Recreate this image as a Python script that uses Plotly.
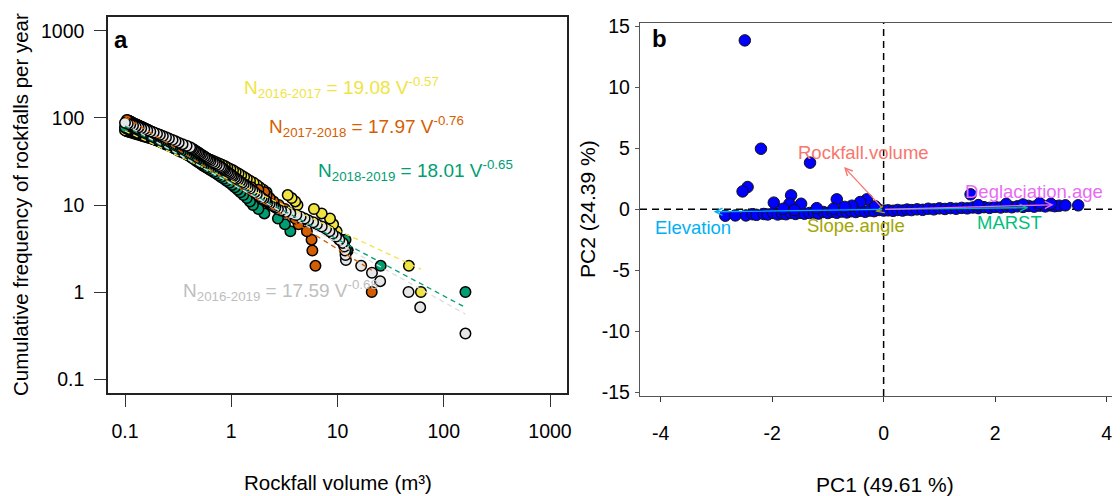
import plotly.graph_objects as go

# ---------------- Panel a data (cumulative frequency vs rockfall volume) ----------------
v_2016_2017 = [61, 47, 12.5, 11.0, 9.8, 9.1, 8.5, 7.1, 6.0, 4.2, 4.0, 3.7, 3.4, 2.15, 2.0, 1.85, 1.74, 1.62, 1.5, 1.4,
               1.32, 1.24, 1.17, 1.1, 1.04, 0.98, 0.92, 0.87, 0.82, 0.77, 0.72, 0.68, 0.64, 0.6, 0.57, 0.54, 0.51, 0.48, 0.455, 0.43,
               0.41, 0.39, 0.37, 0.35, 0.335, 0.32, 0.305, 0.29, 0.275, 0.262, 0.25, 0.238, 0.226, 0.215, 0.205, 0.195, 0.186, 0.177, 0.169, 0.161,
               0.154, 0.147, 0.141, 0.135, 0.129, 0.124, 0.119, 0.114, 0.11, 0.106, 0.103, 0.1]
n_2016_2017 = [1, 2, 3, 4, 5, 6, 7, 8, 9, 10, 11, 12, 13, 14, 15, 16, 17, 18, 19, 20,
               21, 22, 23, 24, 25, 26, 27, 28, 29, 30, 31, 32, 33, 34, 35, 36, 37, 38, 39, 40,
               41, 42, 43, 44, 45, 46, 47, 48, 49, 50, 51, 52, 53, 54, 55, 56, 57, 58, 59, 60,
               61, 62, 63, 64, 65, 66, 67, 68, 69, 70, 71, 72]

v_2017_2018 = [21, 6.2, 5.8, 5.7, 5.15, 4.3, 4.0, 3.6, 3.2, 2.8, 2.5, 2.3, 2.15, 2.05, 1.8, 1.55, 1.37, 1.25, 1.15, 1.05,
               0.98, 0.91, 0.85, 0.8, 0.76, 0.72, 0.69, 0.66, 0.63, 0.6, 0.57, 0.55, 0.535, 0.52, 0.5, 0.48, 0.46, 0.44, 0.43, 0.42,
               0.405, 0.39, 0.375, 0.36, 0.35, 0.34, 0.33, 0.32, 0.31, 0.3, 0.295, 0.285, 0.275, 0.268, 0.26, 0.253, 0.246, 0.24, 0.234, 0.228,
               0.222, 0.216, 0.21, 0.205, 0.2, 0.195, 0.19, 0.185, 0.18, 0.176, 0.172, 0.168, 0.164, 0.16, 0.156, 0.152, 0.149, 0.146, 0.143, 0.14,
               0.137, 0.134, 0.131, 0.128, 0.125, 0.122, 0.12, 0.118, 0.116, 0.114, 0.112, 0.11, 0.108, 0.106, 0.104]
n_2017_2018 = [1, 2, 3, 4, 5, 6, 7, 8, 9, 10, 11, 12, 13, 14, 15, 16, 17, 18, 19, 20,
               21, 22, 23, 24, 25, 26, 27, 28, 29, 30, 31, 32, 33, 34, 35, 36, 37, 38, 39, 40,
               41, 42, 43, 44, 45, 46, 47, 48, 49, 50, 51, 52, 53, 54, 55, 56, 57, 58, 59, 60,
               61, 62, 63, 64, 65, 66, 67, 68, 69, 70, 71, 72, 73, 74, 75, 76, 77, 78, 79, 80,
               81, 82, 83, 84, 85, 86, 87, 88, 89, 90, 91, 92, 93, 94, 95]

v_2018_2019 = [160, 25.5, 12.3, 11.9, 3.6, 3.2, 2.75, 2.05, 1.8, 1.6, 1.5, 1.4, 1.3, 1.22, 1.15, 1.08, 1.02, 0.96, 0.9, 0.85,
               0.8, 0.76, 0.72, 0.68, 0.64, 0.61, 0.58, 0.55, 0.53, 0.51, 0.49, 0.47, 0.455, 0.44, 0.425, 0.41, 0.395, 0.38, 0.365, 0.35,
               0.335, 0.32, 0.31, 0.3, 0.29, 0.28, 0.27, 0.26, 0.25, 0.24, 0.232, 0.224, 0.216, 0.208, 0.2, 0.193, 0.186, 0.18, 0.174, 0.168,
               0.162, 0.156, 0.151, 0.146, 0.141, 0.136, 0.132, 0.128, 0.124, 0.12, 0.117, 0.114, 0.111, 0.108, 0.105, 0.103, 0.101, 0.1]
n_2018_2019 = [1, 2, 3, 4, 5, 6, 7, 8, 9, 10, 11, 12, 13, 14, 15, 16, 17, 18, 19, 20,
               21, 22, 23, 24, 25, 26, 27, 28, 29, 30, 31, 32, 33, 34, 35, 36, 37, 38, 39, 40,
               41, 42, 43, 44, 45, 46, 47, 48, 49, 50, 51, 52, 53, 54, 55, 56, 57, 58, 59, 60,
               61, 62, 63, 64, 65, 66, 67, 68, 69, 70, 71, 72, 73, 74, 75, 76, 77, 78]

v_2016_2019 = [160, 60, 46.6, 25.2, 21.1, 16.7, 12.0, 11.9, 11.8, 11.6, 11.2, 10.4, 9.7, 9.0, 8.4, 7.8, 7.1, 6.4, 5.9, 5.3,
               4.9, 4.5, 4.1, 3.6, 3.25, 2.95, 2.75, 2.6, 2.5, 2.4, 2.3, 2.2, 2.14, 2.09, 2.0, 1.93, 1.85, 1.74, 1.66, 1.58,
               1.5, 1.43, 1.37, 1.31, 1.26, 1.21, 1.16, 1.12, 1.08, 1.04, 1.01, 0.98, 0.95, 0.92, 0.89, 0.86, 0.84, 0.82, 0.8, 0.77,
               0.73, 0.7, 0.67, 0.64, 0.62, 0.6, 0.58, 0.56, 0.54, 0.52, 0.505, 0.49, 0.475, 0.46, 0.446, 0.435, 0.42, 0.41, 0.38, 0.348,
               0.32, 0.299, 0.28, 0.259, 0.243, 0.227, 0.213, 0.2, 0.186, 0.173, 0.162, 0.152, 0.142, 0.134, 0.126, 0.119, 0.112, 0.106, 0.1]
n_2016_2019 = [0.333, 0.667, 1.0, 1.333, 1.667, 2.0, 2.333, 2.667, 3.0, 3.333, 3.667, 4.0, 4.333, 4.667, 5.0, 5.333, 5.667, 6.0, 6.333, 6.667,
               7.0, 7.333, 7.667, 8.0, 8.333, 8.667, 9.0, 9.333, 9.667, 10.0, 10.333, 10.667, 11.0, 11.333, 11.667, 12.0, 12.667, 13.333, 14.0, 14.667,
               15.333, 16.0, 16.667, 17.333, 18.0, 18.667, 19.333, 20.0, 20.667, 21.333, 22.0, 22.667, 23.333, 24.0, 24.667, 25.333, 26.0, 26.667, 27.333, 28.0,
               29.0, 30.0, 31.0, 32.0, 33.0, 34.0, 35.0, 36.0, 37.0, 38.0, 39.0, 40.0, 41.0, 42.0, 43.0, 44.0, 45.0, 46.0, 48.0, 50.0,
               52.0, 54.0, 56.0, 58.0, 60.0, 62.0, 64.0, 66.0, 68.0, 70.0, 72.0, 74.0, 76.0, 78.0, 80.0, 82.0, 84.0, 86.0, 88.0]

# power-law fits N = a * V^b
fit_periods = ["2016-2017", "2017-2018", "2018-2019", "2016-2019"]
fit_a = [19.08, 17.97, 18.01, 17.59]
fit_b = [-0.57, -0.76, -0.65, -0.68]
fit_vmin = [0.1, 0.1, 0.1, 0.1]
fit_vmax = [61, 21, 160, 160]

# ---------------- Panel b data (PCA) ----------------
pc1 = [-2.84, -2.66, -2.47, -2.35, -2.28, -2.15, -2.08, -1.98, -1.9, -1.82, -1.75, -1.66, -1.58, -1.5, -1.42, -1.33, -1.25, -1.17,
       -1.08, -1.0, -0.92, -0.84, -0.75, -0.66, -0.58, -0.5, -0.42, -0.33, -0.25, -0.17, -0.08, 0.0, 0.08, 0.17, 0.25, 0.34,
       0.42, 0.5, 0.6, 0.7, 0.8, 0.9, 1.0, 1.1, 1.2, 1.3, 1.4, 1.5, 1.6, 1.7, 1.8, 1.9, 2.0, 2.1, 2.2, 2.3, 2.4, 2.5, 2.6,
       2.7, 2.8, 2.9, 3.0, 3.07, 3.15, 3.26, 3.49,
       -2.49, -2.2, -1.32, -2.44, -2.53, -1.66, -1.97, -1.69, -1.48, -0.84, -0.30, -0.42, -0.57, 1.56,
       -1.2, -0.9, -0.7, -0.15, -1.8, -1.6, 2.2, 2.5, 2.8, 1.7, 3.0]
pc2 = [-0.52, -0.5, -0.5, -0.4, -0.45, -0.38, -0.42, -0.3, -0.42, -0.35, -0.4, -0.3, -0.38, -0.28, -0.36, -0.3, -0.25, -0.35,
       -0.22, -0.3, -0.2, -0.28, -0.18, -0.25, -0.15, -0.22, -0.12, -0.2, -0.1, -0.15, -0.05, -0.1, -0.08, -0.12, -0.05, -0.1,
       -0.02, -0.06, 0.0, -0.04, 0.05, 0.0, 0.08, 0.03, 0.1, 0.05, 0.12, 0.08, 0.15, 0.1, 0.18, 0.12, 0.2, 0.15, 0.22, 0.17, 0.25, 0.2, 0.28,
       0.22, 0.3, 0.24, 0.32, 0.26, 0.3, 0.33, 0.33,
       13.85, 4.97, 3.83, 1.83, 1.47, 1.15, 0.55, 0.46, 0.46, 0.82, 0.82, 0.6, 0.3, 1.23,
       0.1, 0.05, 0.2, 0.25, 0.05, -0.05, 0.45, 0.4, 0.5, 0.35, 0.45]

var_names = ["Rockfall.volume", "Slope.angle", "MARST", "Elevation", "Deglaciation.age"]
var_pc1 = [-0.71, -0.15, 2.6, -3.05, 3.05]
var_pc2 = [3.47, -0.18, 0.14, -0.2, 0.38]
var_colors = ["#F8766D", "#A3A500", "#00BF7D", "#00B0F6", "#E76BF3"]
lab_pc1 = [-0.37, -0.49, 2.26, -3.42, 2.7]
lab_pc2 = [4.65, -1.35, -1.04, -1.5, 1.5]

FONT = "Liberation Sans, Arial, sans-serif"

# The page body has an 8 px margin, so the figure is drawn 8 px smaller and
# every paper position below is given in window pixels minus that offset.
OFF = 8
W, H = 1120 - OFF, 496 - OFF


def px(x):
    return (x - OFF) / W


def py(y):
    return (496 - y) / H


fig = go.Figure()

series = [
    (v_2016_2017, n_2016_2017, "#F0E442"),
    (v_2017_2018, n_2017_2018, "#D55E00"),
    (v_2018_2019, n_2018_2019, "#009E73"),
    (v_2016_2019, n_2016_2019, "#E6E6E6"),
]
for v, n, c in series:
    fig.add_trace(go.Scatter(x=v, y=n, mode="markers", xaxis="x", yaxis="y",
                             marker=dict(size=10.5, color=c, line=dict(color="#000", width=1.5)),
                             hoverinfo="skip"))

line_colors = ["#F0E442", "#D55E00", "#009E73", "#DDDDDD"]
for a, b, v0, v1, lc in zip(fit_a, fit_b, fit_vmin, fit_vmax, line_colors):
    fig.add_trace(go.Scatter(x=[v0, v1], y=[a * v0 ** b, a * v1 ** b], mode="lines", xaxis="x", yaxis="y",
                             line=dict(color=lc, width=1.3, dash="5px,4px"), hoverinfo="skip"))

fig.add_trace(go.Scatter(x=pc1, y=pc2, mode="markers", xaxis="x2", yaxis="y2",
                         marker=dict(size=11.5, color="#0000FF", line=dict(color="#111", width=1)),
                         hoverinfo="skip"))

# equations
eq_colors = ["#F0E442", "#D55E00", "#009E73", "#BEBEBE"]
eq_x = [0.10, 0.335, 0.795, -0.47]
eq_y = [2.345, 1.899, 1.401, 0.014]
annotations = []
for p, a, b, c, ex, ey in zip(fit_periods, fit_a, fit_b, eq_colors, eq_x, eq_y):
    annotations.append(dict(xref="x", yref="y", x=ex, y=ey, xanchor="left", yanchor="middle", showarrow=False,
                            text=f"N<sub>{p}</sub> = {a:.2f} V<sup>{b:.2f}</sup>",
                            font=dict(size=19, color=c, family=FONT)))

# PCA arrows & labels
for nm, x1, y1, c, lx, ly in zip(var_names, var_pc1, var_pc2, var_colors, lab_pc1, lab_pc2):
    annotations.append(dict(xref="x2", yref="y2", axref="x2", ayref="y2", x=x1, y=y1, ax=0, ay=0,
                            text="", showarrow=True, arrowhead=5, arrowsize=1.1, arrowwidth=1.3,
                            arrowcolor=c, standoff=0, startstandoff=0))
    annotations.append(dict(xref="x2", yref="y2", x=lx, y=ly, text=nm, showarrow=False,
                            xanchor="center", yanchor="middle", font=dict(size=18.5, color=c, family=FONT)))

# panel letters
annotations.append(dict(xref="paper", yref="paper", x=px(112), y=py(40), text="<b>a</b>",
                        showarrow=False, xanchor="left", yanchor="middle", font=dict(size=24, color="#000", family=FONT)))
annotations.append(dict(xref="paper", yref="paper", x=px(650), y=py(38), text="<b>b</b>",
                        showarrow=False, xanchor="left", yanchor="middle", font=dict(size=24, color="#000", family=FONT)))

# axis titles
annotations.append(dict(xref="paper", yref="paper", x=px(20), y=py(205), textangle=-90,
                        text="Cumulative frequency of rockfalls per year", showarrow=False,
                        xanchor="center", yanchor="middle", font=dict(size=20.5, color="#000", family=FONT)))
annotations.append(dict(xref="paper", yref="paper", x=px(338), y=py(482),
                        text="Rockfall volume (m³)", showarrow=False,
                        xanchor="center", yanchor="middle", font=dict(size=20.5, color="#000", family=FONT)))
annotations.append(dict(xref="paper", yref="paper", x=px(885), y=py(484),
                        text="PC1 (49.61 %)", showarrow=False,
                        xanchor="center", yanchor="middle", font=dict(size=21, color="#000", family=FONT)))
annotations.append(dict(xref="paper", yref="paper", x=px(587), y=py(209), textangle=-90,
                        text="PC2 (24.39 %)", showarrow=False,
                        xanchor="center", yanchor="middle", font=dict(size=21, color="#000", family=FONT)))

shapes = [
    dict(type="line", xref="x2", yref="y2", x0=-4.37, x1=4.24, y0=0, y1=0,
         line=dict(color="#000", width=1.5, dash="7px,5px"), layer="below"),
    dict(type="line", xref="x2", yref="y2", x0=0, x1=0, y0=-15.3, y1=15.3,
         line=dict(color="#000", width=1.5, dash="7px,5px"), layer="below"),
]

tickfont = dict(size=19.5, color="#000", family=FONT)
fig.update_layout(
    template="none",
    width=W, height=H, margin=dict(l=0, r=0, t=0, b=0, pad=0, autoexpand=False),
    paper_bgcolor="white", plot_bgcolor="white", showlegend=False,
    font=dict(family=FONT, size=19, color="#000"),
    xaxis=dict(type="log", range=[-1.16, 3.16], domain=[px(108), px(567)], anchor="y", automargin=False,
               showline=True, mirror=True, linecolor="#222", linewidth=1.5,
               ticks="outside", ticklen=12, tickwidth=1.4, tickcolor="#333",
               tickvals=[0.1, 1, 10, 100, 1000], ticktext=["0.1", "1", "10", "100", "1000"],
               tickfont=tickfont, showgrid=False, zeroline=False, ticklabelstandoff=8),
    yaxis=dict(type="log", range=[-1.16, 3.16], domain=[py(393), py(17)], anchor="x", automargin=False,
               showline=True, mirror=True, linecolor="#222", linewidth=1.5,
               ticks="outside", ticklen=12, tickwidth=1.4, tickcolor="#333",
               tickvals=[0.1, 1, 10, 100, 1000], ticktext=["0.1", "1", "10", "100", "1000"],
               tickfont=tickfont, showgrid=False, zeroline=False, ticklabelstandoff=6),
    xaxis2=dict(range=[-4.37, 4.24], domain=[px(640), 1.0], anchor="y2", automargin=False,
                showline=True, mirror=True, linecolor="#555", linewidth=1.3,
                ticks="outside", ticklen=5, tickwidth=1.3, tickcolor="#333",
                tickvals=[-4, -2, 0, 2, 4], ticktext=["-4", "-2", "0", "2", "4"],
                tickfont=tickfont, showgrid=False, zeroline=False, ticklabelstandoff=14),
    yaxis2=dict(range=[-15.3, 15.3], domain=[py(396), py(22.7)], anchor="x2", automargin=False,
                showline=True, mirror=False, linecolor="#555", linewidth=1.3,
                ticks="outside", ticklen=4, tickwidth=1.2, tickcolor="#555",
                tickvals=[-15, -10, -5, 0, 5, 10, 15], ticktext=["-15", "-10", "-5", "0", "5", "10", "15"],
                tickfont=tickfont, showgrid=False, zeroline=False, ticklabelstandoff=1),
    annotations=annotations, shapes=shapes,
)

fig.write_html("out.html")
